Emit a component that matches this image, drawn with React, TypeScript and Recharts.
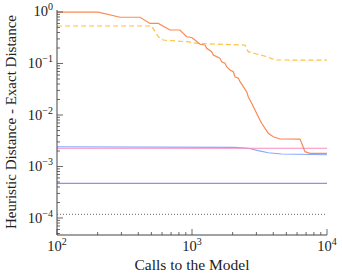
import React from 'react';
import { LineChart, Line, XAxis, YAxis } from 'recharts';

// calls to the model (x) and distance gap (y) for each run
const solidX = [100, 202, 293, 412, 489, 563, 687, 813, 913, 995, 1052, 1146, 1248, 1284, 1399, 1439, 1524, 1611, 1659, 1755, 1806, 1911, 2022, 2083, 2204, 2268, 2400, 2540, 2612, 2766, 2929, 3098, 3280, 3473, 3675, 4002, 4484, 6310, 6497, 6871, 7485, 10000];
const solidY = [0.99, 0.99, 0.79, 0.79, 0.6, 0.6, 0.447, 0.447, 0.33, 0.32, 0.286, 0.236, 0.229, 0.197, 0.169, 0.146, 0.136, 0.126, 0.108, 0.101, 0.0867, 0.0748, 0.0693, 0.0554, 0.0516, 0.0443, 0.0355, 0.0283, 0.0227, 0.0169, 0.0125, 0.00927, 0.0069, 0.00552, 0.00441, 0.00379, 0.00342, 0.0034, 0.00282, 0.00194, 0.0018, 0.0018];

const dashedX = [100, 502, 563, 612, 950, 1100, 2470, 2610, 3010, 3570, 4120, 10000];
const dashedY = [0.535, 0.535, 0.33, 0.286, 0.262, 0.245, 0.228, 0.17, 0.153, 0.136, 0.117, 0.116];

const blueX = [100, 2083, 2612, 3098, 3673, 4610, 10000];
const blueY = [0.00242, 0.00236, 0.00226, 0.00203, 0.00185, 0.00175, 0.00169];

const flatX = [100, 10000];
const pinkY = [0.00226, 0.00226];
const purpleY = [0.00047, 0.00047];
const dottedY = [0.000118, 0.000118];

const xTicks = [100, 200, 300, 400, 500, 600, 700, 800, 900, 1000, 2000, 3000, 4000, 5000, 6000, 7000, 8000, 9000, 10000];
const yTicks = [
  5e-5, 6e-5, 7e-5, 8e-5, 9e-5,
  1e-4, 2e-4, 3e-4, 4e-4, 5e-4, 6e-4, 7e-4, 8e-4, 9e-4,
  1e-3, 2e-3, 3e-3, 4e-3, 5e-3, 6e-3, 7e-3, 8e-3, 9e-3,
  1e-2, 2e-2, 3e-2, 4e-2, 5e-2, 6e-2, 7e-2, 8e-2, 9e-2,
  0.1, 0.2, 0.3, 0.4, 0.5, 0.6, 0.7, 0.8, 0.9, 1,
];

const toPoints = (xs: number[], ys: number[]) => xs.map((x, i) => ({ x, y: ys[i] }));

const FONT = '"Liberation Serif", "DejaVu Serif", serif';
const AXIS = '#444';

const powerOf = (v: number) => {
  const l = Math.log10(v);
  const e = Math.round(l);
  return { e, major: Math.abs(l - e) < 1e-6 };
};

const expText = (e: number) => (e < 0 ? `\u2212${-e}` : `${e}`);

const YTick = (props: any) => {
  const { x, y, payload } = props;
  const { e, major } = powerOf(payload.value);
  return (
    <g>
      <line x1={x} x2={x + (major ? 6 : 3)} y1={y} y2={y} stroke={AXIS} strokeWidth={0.8} />
      {major && (
        <text x={x - 4} y={y + 4.5} textAnchor="end" fontFamily={FONT} fontSize={14.5} fill="#222">
          10<tspan dy={-6} fontSize={10}>{expText(e)}</tspan>
        </text>
      )}
    </g>
  );
};

const XTick = (props: any) => {
  const { x, y, payload } = props;
  const { e, major } = powerOf(payload.value);
  return (
    <g>
      <line x1={x} x2={x} y1={y} y2={y - (major ? 6 : 3)} stroke={AXIS} strokeWidth={0.8} />
      {major && (
        <text x={x} y={y + 16} textAnchor="middle" fontFamily={FONT} fontSize={14.5} fill="#222">
          10<tspan dy={-6} fontSize={10}>{expText(e)}</tspan>
        </text>
      )}
    </g>
  );
};

const YLabel = () => (
  <text
    x={11}
    y={122}
    transform="rotate(-90 11 122)"
    textAnchor="middle"
    dominantBaseline="central"
    fontFamily={FONT}
    fontSize={15}
    fill="#222"
  >
    Heuristic Distance - Exact Distance
  </text>
);

const XLabel = () => (
  <text x={192} y={270} textAnchor="middle" fontFamily={FONT} fontSize={15.5} fill="#222">
    Calls to the Model
  </text>
);

export default function App() {
  return (
    <div style={{ position: 'absolute', left: 0, top: 0, background: '#fff' }}>
      <LineChart width={342} height={275} margin={{ top: 10, right: 15, bottom: 0, left: 0 }}>
        <XAxis
          xAxisId="b"
          dataKey="x"
          type="number"
          scale="log"
          domain={[100, 10000]}
          ticks={xTicks}
          interval={0}
          allowDataOverflow
          height={40}
          tickSize={0}
          tickMargin={0}
          tickLine={false}
          stroke={AXIS}
          tick={<XTick />}
          label={<XLabel />}
        />
        <XAxis xAxisId="t" orientation="top" type="number" scale="log" domain={[100, 10000]} height={0} tick={false} tickLine={false} stroke={AXIS} />
        <YAxis
          yAxisId="l"
          type="number"
          scale="log"
          domain={[4.68e-5, 1.093]}
          ticks={yTicks}
          interval={0}
          allowDataOverflow
          width={57}
          tickSize={0}
          tickMargin={0}
          tickLine={false}
          stroke={AXIS}
          tick={<YTick />}
          label={<YLabel />}
        />
        <YAxis yAxisId="r" orientation="right" type="number" scale="log" domain={[4.68e-5, 1.093]} width={0} tick={false} tickLine={false} stroke={AXIS} />
        <Line xAxisId="b" yAxisId="l" data={toPoints(flatX, dottedY)} dataKey="y" stroke="#555" strokeWidth={0.9} strokeDasharray="1 2" dot={false} isAnimationActive={false} />
        <Line xAxisId="b" yAxisId="l" data={toPoints(flatX, purpleY)} dataKey="y" stroke="#9a8cec" strokeWidth={1.2} dot={false} isAnimationActive={false} />
        <Line xAxisId="b" yAxisId="l" data={toPoints(blueX, blueY)} dataKey="y" stroke="#86a8ff" strokeWidth={1.2} dot={false} isAnimationActive={false} />
        <Line xAxisId="b" yAxisId="l" data={toPoints(flatX, pinkY)} dataKey="y" stroke="#f78bbf" strokeWidth={1.2} dot={false} isAnimationActive={false} />
        <Line xAxisId="b" yAxisId="l" data={toPoints(dashedX, dashedY)} dataKey="y" stroke="#ffc247" strokeWidth={1.2} strokeDasharray="5 3" dot={false} isAnimationActive={false} />
        <Line xAxisId="b" yAxisId="l" data={toPoints(solidX, solidY)} dataKey="y" stroke="#fa8a55" strokeWidth={1.2} dot={false} isAnimationActive={false} />
      </LineChart>
    </div>
  );
}
